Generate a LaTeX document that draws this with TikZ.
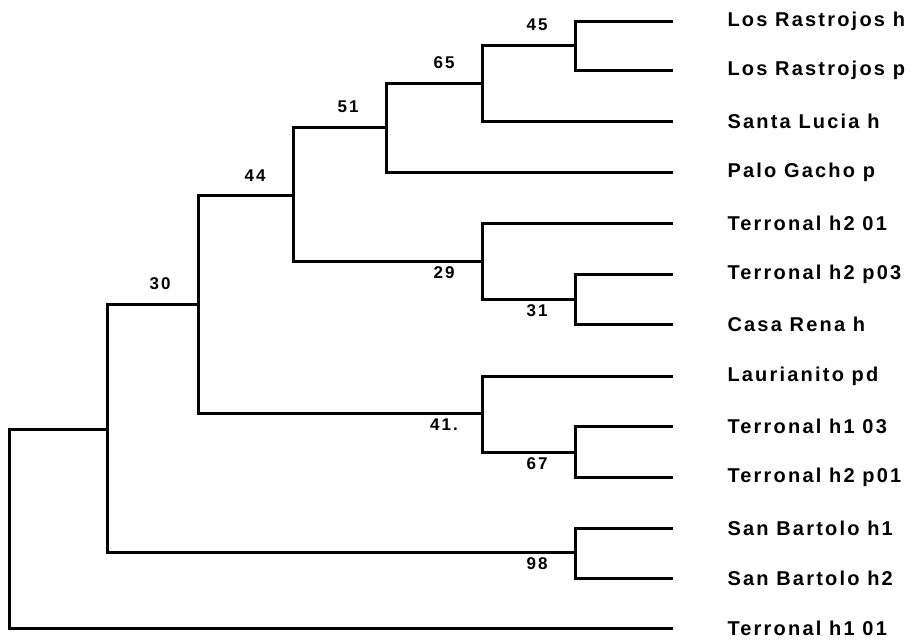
\documentclass[tikz,border=0pt]{standalone}
\usepackage{fontspec}
\setmainfont{Liberation Sans}
\newfontfamily\taxonfont[LetterSpace=11]{Liberation Sans}
\newfontfamily\bootfont[LetterSpace=12]{Liberation Sans}
\usepackage{tikz}
\usetikzlibrary{positioning}

\tikzset{
    taxon/.style={anchor=west, inner sep=0pt, font=\taxonfont\bfseries\fontsize{20}{22}\selectfont},
    boot/.style={inner sep=0pt, font=\bootfont\bfseries\fontsize{17}{19}\selectfont},
}

\begin{document}
\begin{tikzpicture}[x=1pt, y=-1pt, line width=3pt, black]
            \useasboundingbox (0,0) rectangle (916,640);

            % Draw the leaf tips and the names of the samples
            \foreach \i/\y/\name in {1/21/Los Rastrojos h, 2/70/Los Rastrojos p,
                    3/121/Santa Lucia h, 4/172/Palo Gacho p, 5/223/Terronal h2 01,
                    6/274/Terronal h2 p03, 7/324/Casa Rena h, 8/376/Laurianito pd,
                    9/426/Terronal h1 03, 10/477/Terronal h2 p01, 11/528/San Bartolo h1,
                    12/578/San Bartolo h2, 13/628/Terronal h1 01} {
                \coordinate (l\i) at (673,\y);
                \node[taxon] (t\i) at (726,\y) {\name};
            }

            % Inner nodes of the tree
            \coordinate (n45) at (575,45);
            \coordinate (n65) at (482,83);
            \coordinate (n51) at (386,127);
            \coordinate (n44) at (293,195);
            \coordinate (n29) at (482,261);
            \coordinate (n31) at (575,299);
            \coordinate (n30) at (198,304);
            \coordinate (n41) at (482,413);
            \coordinate (n67) at (575,452);
            \coordinate (n98) at (575,552);
            \coordinate (n107) at (107,429);
            \coordinate (root) at (9,429);

            % Draw the brackets
            \foreach \p/\a/\b in {n45/l1/l2, n65/n45/l3, n51/n65/l4, n44/n51/n29,
                    n29/l5/n31, n31/l6/l7, n30/n44/n41, n41/l8/n67, n67/l9/l10,
                    n98/l11/l12, n107/n30/n98, root/n107/l13} {
                \draw (\a) -| (\p) |- (\b);
            }

            % Bootstrap values
            \foreach \p/\v in {n45/45, n65/65, n51/51, n44/44, n30/30} {
                \node[boot, above=12.5pt, xshift=-38pt] (b\p) at (\p) {\v};
            }
            \foreach \p/\v in {n29/29, n31/31, n41/41., n67/67, n98/98} {
                \node[boot, below=4pt, xshift=-38pt] (b\p) at (\p) {\v};
            }
        \end{tikzpicture}
\end{document}
